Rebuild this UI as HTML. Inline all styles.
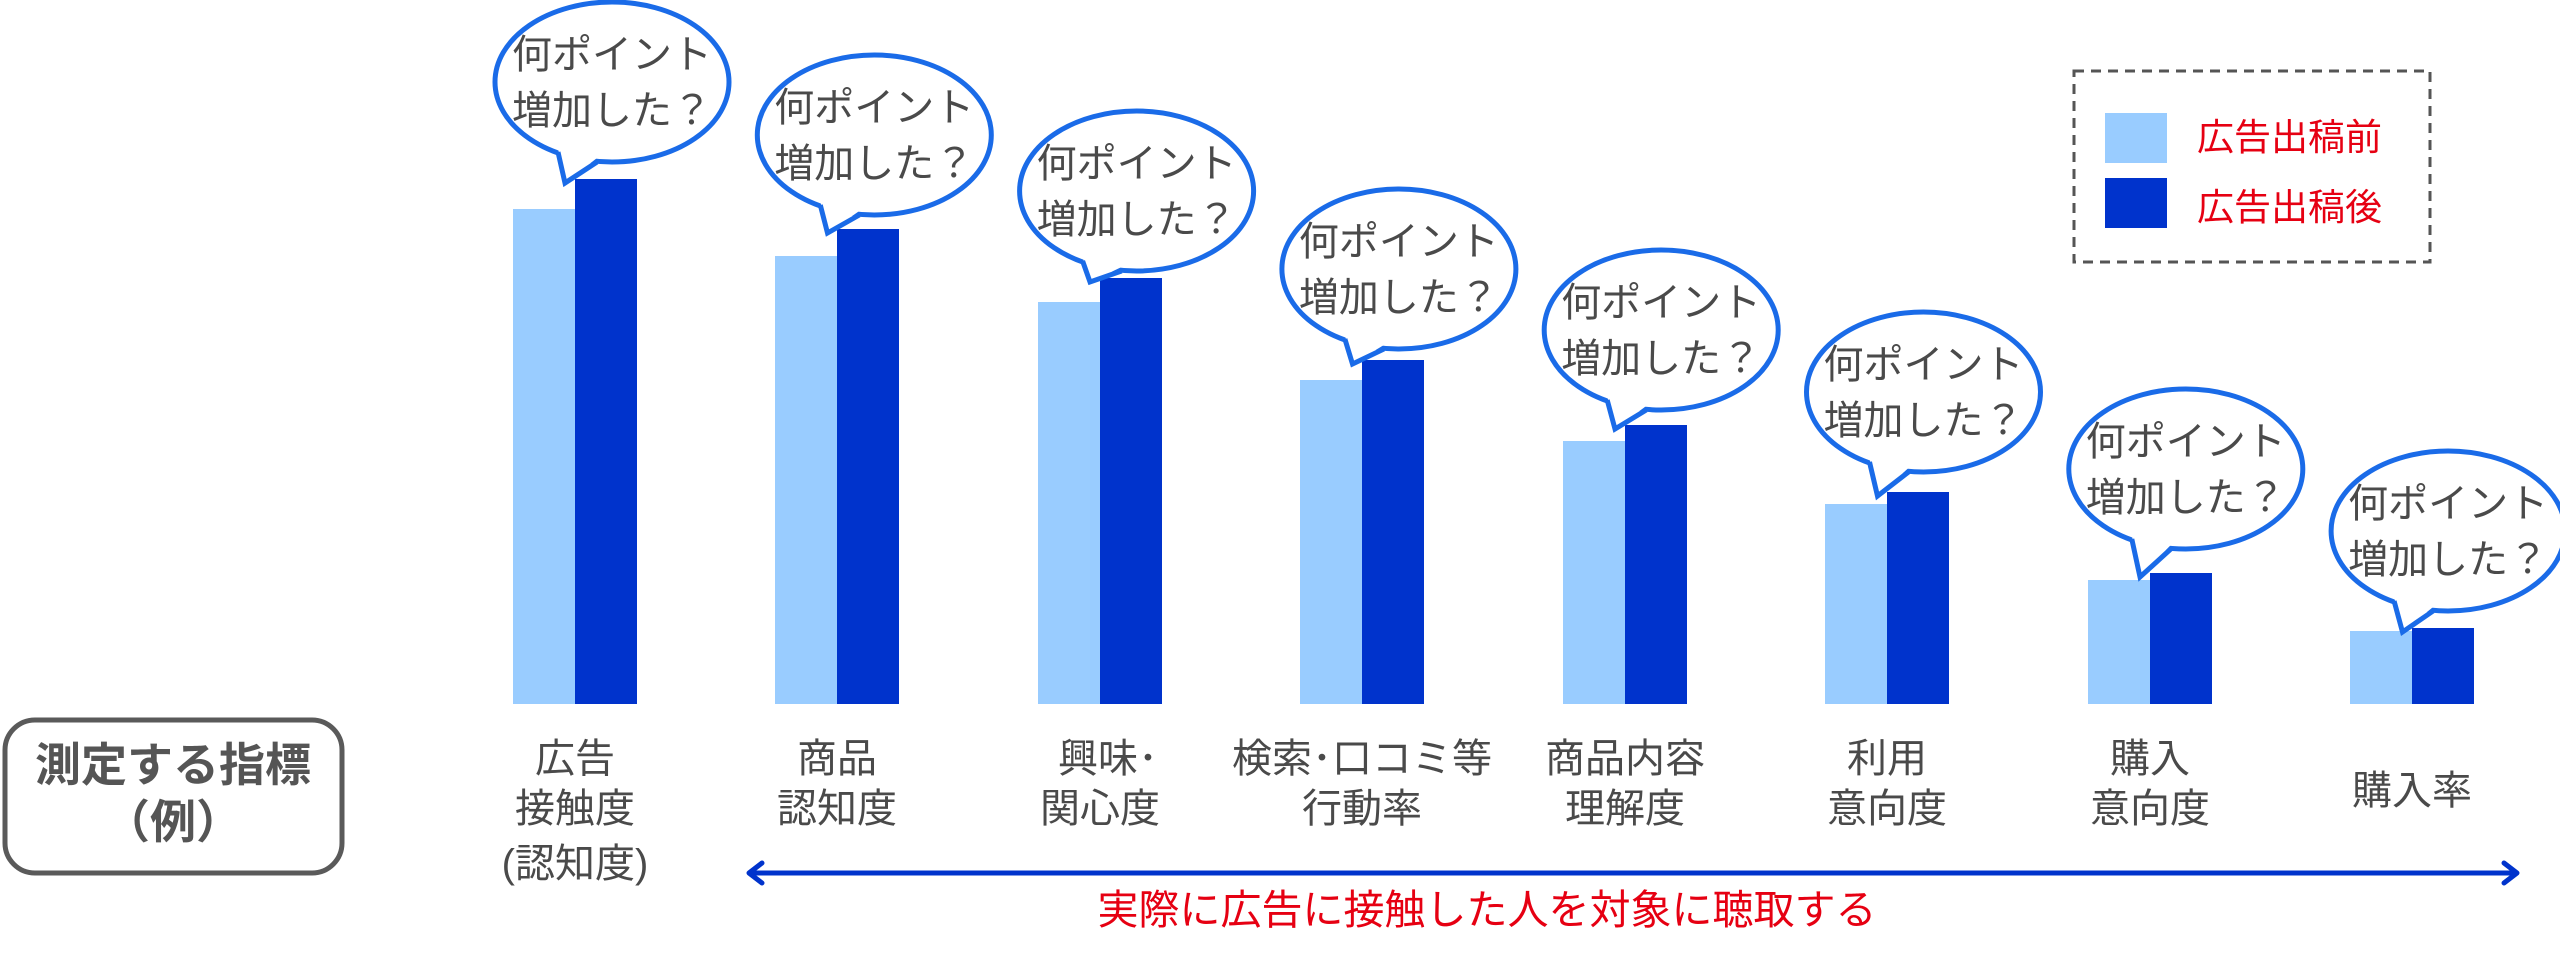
<!DOCTYPE html>
<html><head><meta charset="utf-8"><style>
html,body{margin:0;padding:0;background:#fff;}
svg{display:block;}
text{font-family:"Liberation Sans","Noto Sans CJK JP",sans-serif;}
</style></head><body>
<svg width="2560" height="967" viewBox="0 0 2560 967" xmlns="http://www.w3.org/2000/svg">
<!-- bars -->
<g>
<rect x="513" y="209" width="62" height="495" fill="#99ccff"/><rect x="575" y="179" width="62" height="525" fill="#0033cc"/>
<rect x="775" y="256" width="62" height="448" fill="#99ccff"/><rect x="837" y="229" width="62" height="475" fill="#0033cc"/>
<rect x="1038" y="302" width="62" height="402" fill="#99ccff"/><rect x="1100" y="278" width="62" height="426" fill="#0033cc"/>
<rect x="1300" y="380" width="62" height="324" fill="#99ccff"/><rect x="1362" y="360" width="62" height="344" fill="#0033cc"/>
<rect x="1563" y="441" width="62" height="263" fill="#99ccff"/><rect x="1625" y="425" width="62" height="279" fill="#0033cc"/>
<rect x="1825" y="504" width="62" height="200" fill="#99ccff"/><rect x="1887" y="492" width="62" height="212" fill="#0033cc"/>
<rect x="2088" y="580" width="62" height="124" fill="#99ccff"/><rect x="2150" y="573" width="62" height="131" fill="#0033cc"/>
<rect x="2350" y="631" width="62" height="73" fill="#99ccff"/><rect x="2412" y="628" width="62" height="76" fill="#0033cc"/>
</g>
<!-- bubbles -->
<g id="bubbles" stroke="#1a6be8" stroke-width="5" fill="#fff" font-size="40">
</g>
<script>
(function(){
var g=document.getElementById('bubbles');
var cys=[82,135,191,269,330,392,469,531];
var tips=[179,229,278,360,425,492,573,628];
var ns='http://www.w3.org/2000/svg';
for(var i=0;i<8;i++){
 var cx=612+262.3*i, cy=cys[i], tx=575+262.5*i-10, ty=tips[i]+4;
 var e=document.createElementNS(ns,'ellipse');
 e.setAttribute('cx',cx);e.setAttribute('cy',cy);e.setAttribute('rx',117);e.setAttribute('ry',80);
 g.appendChild(e);
 var p=document.createElementNS(ns,'polygon');
 p.setAttribute('points',(cx-54)+','+(cy+66)+' '+tx+','+ty+' '+(cx-15)+','+(cy+76));
 p.setAttribute('stroke','none');g.appendChild(p);
 var l=document.createElementNS(ns,'polyline');
 l.setAttribute('points',(cx-54)+','+(cy+70)+' '+tx+','+ty+' '+(cx-15)+','+(cy+80));
 l.setAttribute('fill','none');l.setAttribute('stroke-linejoin','miter');g.appendChild(l);
 var t1=document.createElementNS(ns,'text');
 t1.setAttribute('x',cx);t1.setAttribute('y',cy-14);t1.setAttribute('text-anchor','middle');
 t1.setAttribute('fill','#4a4a4a');t1.setAttribute('stroke','none');t1.textContent='何ポイント';g.appendChild(t1);
 var t2=document.createElementNS(ns,'text');
 t2.setAttribute('x',cx);t2.setAttribute('y',cy+42);t2.setAttribute('text-anchor','middle');
 t2.setAttribute('fill','#4a4a4a');t2.setAttribute('stroke','none');t2.textContent='増加した？';g.appendChild(t2);
}
})();
</script>
<!-- category labels -->
<g fill="#4a4a4a" font-size="40" text-anchor="middle">
<text x="575" y="772">広告</text><text x="575" y="822">接触度</text><text x="575" y="877">(認知度)</text>
<text x="837" y="772">商品</text><text x="837" y="822">認知度</text>
<text x="1108" y="772">興味･</text><text x="1100" y="822">関心度</text>
<text x="1362" y="772">検索･口コミ等</text><text x="1362" y="822">行動率</text>
<text x="1625" y="772">商品内容</text><text x="1625" y="822">理解度</text>
<text x="1887" y="772">利用</text><text x="1887" y="822">意向度</text>
<text x="2150" y="772">購入</text><text x="2150" y="822">意向度</text>
<text x="2412" y="804">購入率</text>
</g>
<!-- left box -->
<rect x="5" y="720" width="337" height="153" rx="30" ry="30" fill="none" stroke="#5a5a5a" stroke-width="5"/>
<g fill="#555" font-size="46" font-weight="bold" text-anchor="middle">
<text x="173" y="781">測定する指標</text><text x="173" y="838">（例）</text>
</g>
<!-- arrow -->
<g stroke="#0033cc" stroke-width="5" fill="none" stroke-linecap="round" stroke-linejoin="round">
<line x1="750" y1="873" x2="2516" y2="873"/>
<polyline points="762,863 749,873 762,883"/>
<polyline points="2504,863 2517,873 2504,883"/>
</g>
<text x="1487" y="924" fill="#e60012" font-size="41" text-anchor="middle">実際に広告に接触した人を対象に聴取する</text>
<!-- legend -->
<rect x="2074" y="71" width="356" height="191" fill="none" stroke="#555" stroke-width="3" stroke-dasharray="10,7"/>
<rect x="2105" y="113" width="62" height="50" fill="#99ccff"/>
<rect x="2105" y="178" width="62" height="50" fill="#0033cc"/>
<g fill="#e60012" font-size="37">
<text x="2197" y="150">広告出稿前</text><text x="2197" y="220">広告出稿後</text>
</g>
</svg>
</body></html>
